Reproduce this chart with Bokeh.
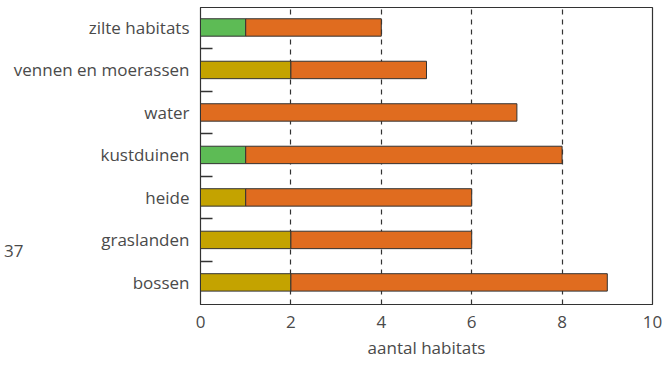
from bokeh.plotting import figure
from bokeh.models import ColumnDataSource, FixedTicker, Range1d, LinearAxis
from bokeh.embed import file_html
from bokeh.resources import INLINE

categories = ["bossen", "graslanden", "heide", "kustduinen", "water",
              "vennen en moerassen", "zilte habitats"]
first_values = [2, 2, 1, 1, 0, 2, 1]
first_group = ["b", "b", "b", "a", "b", "b", "a"]
second_values = [7, 4, 5, 7, 7, 3, 3]
x_ticks = [0, 2, 4, 6, 8, 10]
x_title = "aantal habitats"
side_note = "37"
side_note_y = 0.75

group_colors = {"a": "#5dbb55", "b": "#c4a300"}
orange = "#e06c1f"
text_color = "#4a4a4a"
font = "Open Sans"

ys = list(range(len(categories)))
idx = [i for i in ys if first_values[i] > 0]
src1 = ColumnDataSource(dict(
    y=[ys[i] for i in idx],
    left=[0 for i in idx],
    right=[first_values[i] for i in idx],
    color=[group_colors[first_group[i]] for i in idx],
))
src2 = ColumnDataSource(dict(
    y=ys,
    left=first_values,
    right=[a + b for a, b in zip(first_values, second_values)],
))

p = figure(width=662, height=366, output_backend="svg", toolbar_location=None,
           x_range=Range1d(0, 10), y_range=Range1d(-0.52, 6.47),
           min_border_left=200, min_border_right=10, min_border_top=7,
           min_border_bottom=62)
p.background_fill_color = "white"
p.border_fill_color = "white"
p.outline_line_color = "#333333"
p.outline_line_width = 1.2

p.hbar(y="y", left="left", right="right", height=0.41, source=src1,
       fill_color="color", line_color="#333333", line_width=1)
p.hbar(y="y", left="left", right="right", height=0.41, source=src2,
       fill_color=orange, line_color="#333333", line_width=1)

# x axis
p.xaxis.ticker = FixedTicker(ticks=x_ticks)
p.xaxis.major_tick_in = 0
p.xaxis.major_tick_out = 0
p.xaxis.minor_tick_in = 0
p.xaxis.minor_tick_out = 0
p.xaxis.axis_line_color = "#333333"
p.xaxis.major_label_text_font = font
p.xaxis.major_label_text_font_size = "17px"
p.xaxis.major_label_text_color = text_color
p.xaxis.major_label_standoff = 11
p.xaxis.axis_label = x_title
p.xaxis.axis_label_text_font = font
p.xaxis.axis_label_text_font_size = "17px"
p.xaxis.axis_label_text_font_style = "normal"
p.xaxis.axis_label_text_color = text_color
p.xaxis.axis_label_standoff = 5

# y axis
p.yaxis.ticker = FixedTicker(ticks=ys, minor_ticks=[i + 0.5 for i in ys[:-1]])
p.yaxis.major_label_overrides = {i: c for i, c in enumerate(categories)}
p.yaxis.major_tick_in = 0
p.yaxis.major_tick_out = 0
p.yaxis.minor_tick_in = 12
p.yaxis.minor_tick_out = 0
p.yaxis.minor_tick_line_color = "#333333"
p.yaxis.minor_tick_line_width = 1.5
p.yaxis.axis_line_color = "#333333"
p.yaxis.major_label_text_font = font
p.yaxis.major_label_text_font_size = "17px"
p.yaxis.major_label_text_color = text_color
p.yaxis.major_label_standoff = 11

# side note as an outer, line-less axis
note_axis = LinearAxis(ticker=FixedTicker(ticks=[side_note_y]),
                       major_label_overrides={side_note_y: side_note})
note_axis.axis_line_color = None
note_axis.major_tick_line_color = None
note_axis.minor_tick_line_color = None
note_axis.major_tick_in = 0
note_axis.major_tick_out = 0
note_axis.major_label_text_font = font
note_axis.major_label_text_font_size = "17px"
note_axis.major_label_text_color = text_color
note_axis.major_label_standoff = -13
p.add_layout(note_axis, "left")

p.xgrid.ticker = FixedTicker(ticks=x_ticks[1:-1])
p.xgrid.grid_line_color = "#333333"
p.xgrid.grid_line_dash = "5 5"
p.xgrid.grid_line_width = 1.2
p.ygrid.grid_line_color = None

open("out.html", "w").write(file_html(p, INLINE))
